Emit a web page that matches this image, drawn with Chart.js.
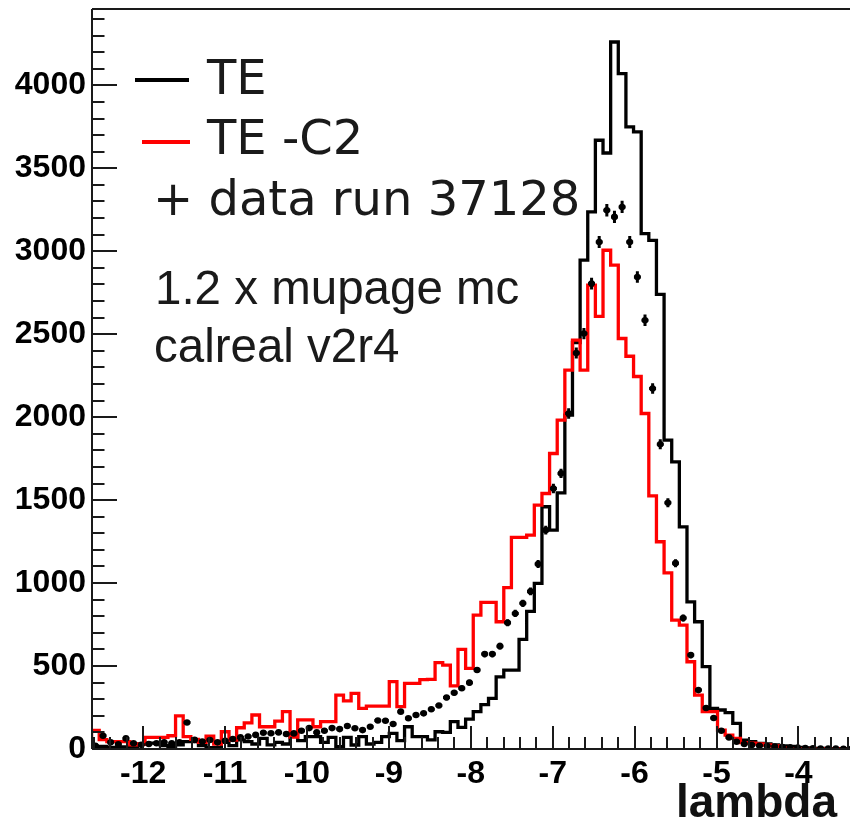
<!DOCTYPE html>
<html>
<head>
<meta charset="utf-8">
<script src="https://cdn.jsdelivr.net/npm/chart.js@4.4.1/dist/chart.umd.min.js"></script>
<style>
html,body{margin:0;padding:0;background:#fff;}
#wrap{width:854px;height:823px;position:relative;}
canvas{display:block;}
</style>
</head>
<body>
<div id="wrap"><canvas id="c" width="854" height="823"></canvas></div>
<script>
// ---- data ----
const xMin = -12.625, xMax = -3.37;
const yMin = 0, yMax = 4460;
const binStart = -12.63, binWidth = 0.0932;
const xTickValues = [-12, -11, -10, -9, -8, -7, -6, -5, -4];
const yTickValues = [0, 500, 1000, 1500, 2000, 2500, 3000, 3500, 4000];
const xMinorStep = 0.2, yMinorStep = 100;

const histTE = [
  30, 12, 15, 10, 10, 12, 15, 30, 35, 35,
  20, 15, 25, 44, 45, 20, 8, 8, 40, 20,
  55, 45, 30, 64, 25, 40, 30, 98, 50, 74,
  74, 40, 70, 14, 70, 24, 74, 30, 40, 74,
  94, 50, 134, 74, 74, 55, 104, 100, 165, 130,
  180, 225, 268, 305, 435, 475, 475, 661, 830, 998,
  1460, 1319, 1544, 2012, 2450, 2946, 3237, 3669, 3592, 4261,
  4070, 3749, 3719, 3106, 3066, 2740, 1861, 1731, 1339, 887,
  767, 496, 245, 235, 219, 155, 54, 44, 34, 30,
  25, 18, 15, 10, 6, 4, 3, 2, 2, 1
];
const histTEC2 = [
  18, 112, 56, 45, 45, 45, 25, 30, 70, 70,
  70, 80, 200, 75, 58, 40, 78, 30, 104, 54,
  128, 158, 205, 134, 134, 168, 225, 72, 175, 175,
  134, 165, 165, 325, 290, 335, 245, 259, 259, 259,
  406, 255, 396, 396, 418, 420, 520, 506, 380, 600,
  486, 807, 884, 884, 767, 973, 1275, 1275, 1289, 1470,
  1540, 1781, 1982, 2283, 2464, 2283, 2795, 2608, 3006, 2916,
  2474, 2367, 2245, 2022, 1525, 1249, 1062, 777, 747, 526,
  325, 225, 225, 114, 84, 64, 38, 36, 30, 24,
  18, 8, 2, 1, 0, 0, 0, 0, 0, 0
];
const dataRun = [
  20, 80, 40, 28, 64, 35, 25, 30, 35, 40,
  35, 40, 160, 55, 45, 54, 40, 50, 60, 70,
  75, 85, 98, 95, 100, 90, 94, 110, 126, 100,
  110, 126, 120, 139, 125, 114, 134, 172, 170, 151,
  225, 185, 205, 215, 240, 262, 310, 339, 366, 400,
  476, 572, 572, 620, 761, 817, 878, 950, 1115, 1319,
  1570, 1661, 2022, 2387, 2504, 2805, 3056, 3247, 3207, 3267,
  3056, 2845, 2584, 2173, 1837, 1484, 1120, 789, 566, 355,
  247, 187, 110, 70, 44, 30, 24, 20, 18, 15,
  12, 10, 8, 6, 4, 3, 2, 2, 1, 1
];
const dataErr = [
  2, 5, 3, 3, 4, 3, 3, 3, 3, 3,
  3, 3, 7, 4, 4, 4, 3, 4, 4, 5,
  5, 5, 5, 5, 6, 5, 5, 6, 6, 6,
  6, 6, 6, 6, 6, 6, 6, 7, 7, 7,
  8, 7, 8, 8, 9, 9, 10, 10, 11, 11,
  12, 13, 13, 14, 15, 16, 16, 17, 18, 20,
  22, 22, 25, 27, 28, 29, 30, 31, 31, 31,
  30, 29, 28, 26, 24, 21, 18, 15, 13, 10,
  9, 8, 6, 5, 4, 3, 3, 2, 2, 2,
  2, 2, 2, 1, 1, 1, 1, 1, 1, 1
];
const legendLabels = ['TE', 'TE -C2', '+ data run 37128'];
const legendColors = ['#000000', '#ff0000', null];
const noteLines = ['1.2 x mupage mc', 'calreal v2r4'];
const xTitle = 'lambda';

// ---- build library datasets ----
function stepPoints(vals) {
  const pts = vals.map((v, i) => ({ x: binStart + i * binWidth, y: v }));
  pts.push({ x: binStart + vals.length * binWidth, y: vals[vals.length - 1] });
  return pts;
}
const dataPoints = dataRun.map((v, i) => ({ x: binStart + (i + 0.5) * binWidth, y: v }));

const TICK_FONT = { family: "'Liberation Sans', Arial, Helvetica, sans-serif", weight: 'bold', size: 32 };

const errorBarPlugin = {
  id: 'errorBars',
  afterDatasetsDraw(chart) {
    const ctx = chart.ctx, xs = chart.scales.x, ys = chart.scales.y, a = chart.chartArea;
    ctx.save();
    ctx.beginPath();
    ctx.rect(a.left, a.top, a.right - a.left, a.bottom - a.top);
    ctx.clip();
    ctx.strokeStyle = '#000';
    ctx.lineWidth = 3;
    ctx.lineCap = 'butt';
    dataRun.forEach((v, i) => {
      const xc = binStart + (i + 0.5) * binWidth;
      const px = xs.getPixelForValue(xc);
      const pl = xs.getPixelForValue(xc - 0.45 * binWidth);
      const pr = xs.getPixelForValue(xc + 0.45 * binWidth);
      const py = ys.getPixelForValue(v);
      ctx.beginPath();
      ctx.moveTo(pl, py); ctx.lineTo(pr, py);
      const pt = ys.getPixelForValue(v + dataErr[i]);
      const pb = ys.getPixelForValue(Math.max(0, v - dataErr[i]));
      ctx.moveTo(px, pt - 1); ctx.lineTo(px, pb + 1);
      ctx.stroke();
    });
    ctx.restore();
  }
};

const framePlugin = {
  id: 'rootFrame',
  afterDraw(chart) {
    const ctx = chart.ctx, xs = chart.scales.x, ys = chart.scales.y, a = chart.chartArea;
    ctx.save();
    ctx.strokeStyle = '#1a1a1a';
    ctx.lineWidth = 2;
    ctx.beginPath();
    ctx.moveTo(a.left, a.top); ctx.lineTo(a.left, a.bottom);
    ctx.moveTo(a.left, a.bottom); ctx.lineTo(a.right, a.bottom);
    ctx.moveTo(a.left, a.top); ctx.lineTo(a.right, a.top);
    ctx.stroke();
    ctx.beginPath();
    for (let k = Math.ceil((xMin + 0.001) / xMinorStep); k * xMinorStep <= xMax; k++) {
      const v = k * xMinorStep;
      const isMajor = Math.abs(v - Math.round(v)) < 1e-6;
      const px = Math.round(xs.getPixelForValue(v));
      ctx.moveTo(px, a.bottom);
      ctx.lineTo(px, a.bottom - (isMajor ? 23 : 12));
    }
    for (let v = yMin; v <= yMax; v += yMinorStep) {
      const isMajor = v % 500 === 0;
      const py = Math.round(ys.getPixelForValue(v));
      ctx.moveTo(a.left, py);
      ctx.lineTo(a.left + (isMajor ? 25 : 12.5), py);
    }
    ctx.stroke();

    // legend
    ctx.fillStyle = '#1a1a1a';
    ctx.textAlign = 'left';
    ctx.textBaseline = 'alphabetic';
    ctx.font = "48px 'DejaVu Sans', sans-serif";
    ctx.lineWidth = 4;
    ctx.strokeStyle = legendColors[0];
    ctx.beginPath(); ctx.moveTo(135, 80); ctx.lineTo(189, 80); ctx.stroke();
    ctx.strokeStyle = legendColors[1];
    ctx.beginPath(); ctx.moveTo(142, 142); ctx.lineTo(190, 142); ctx.stroke();
    ctx.fillText(legendLabels[0], 207, 94);
    ctx.fillText(legendLabels[1], 207, 154);
    ctx.fillText(legendLabels[2], 153, 215);

    // notes
    ctx.font = "47.5px 'Liberation Sans', Arial, sans-serif";
    ctx.fillText(noteLines[0], 155, 304);
    ctx.fillText(noteLines[1], 154, 362);

    // axis title
    ctx.fillStyle = '#111';
    ctx.font = "bold 46px 'Liberation Sans', Arial, sans-serif";
    ctx.textAlign = 'right';
    ctx.fillText(xTitle, 837, 817);
    ctx.restore();
  }
};

new Chart(document.getElementById('c').getContext('2d'), {
  type: 'line',
  data: {
    datasets: [
      { label: legendLabels[0], data: stepPoints(histTE), borderColor: '#000000', borderWidth: 3.3,
        stepped: 'after', pointRadius: 0, fill: false, order: 3 },
      { label: legendLabels[1], data: stepPoints(histTEC2), borderColor: '#ff0000', borderWidth: 3.3,
        stepped: 'after', pointRadius: 0, fill: false, order: 2 },
      { label: legendLabels[2], data: dataPoints, showLine: false, pointRadius: 3.3,
        pointBackgroundColor: '#000', pointBorderWidth: 0, borderColor: '#000', order: 1 }
    ]
  },
  options: {
    responsive: false,
    animation: false,
    devicePixelRatio: 1,
    layout: { padding: { top: 9, right: 0, left: 0, bottom: 0 } },
    plugins: { legend: { display: false }, tooltip: { enabled: false } },
    scales: {
      x: {
        type: 'linear', min: xMin, max: xMax,
        grid: { display: false, drawTicks: false },
        border: { display: false },
        afterBuildTicks: s => { s.ticks = xTickValues.map(v => ({ value: v })); },
        afterFit: s => { s.height = 74; s.paddingLeft = 0; s.paddingRight = 0; },
        ticks: { font: TICK_FONT, color: '#000', padding: 6, maxRotation: 0, autoSkip: false,
          callback: v => String(v) }
      },
      y: {
        type: 'linear', min: yMin, max: yMax,
        grid: { display: false, drawTicks: false },
        border: { display: false },
        afterBuildTicks: s => { s.ticks = yTickValues.map(v => ({ value: v })); },
        afterFit: s => { s.width = 92; s.paddingTop = 0; s.paddingBottom = 0; },
        ticks: { font: TICK_FONT, color: '#000', padding: 6, autoSkip: false,
          callback: v => String(v) }
      }
    }
  },
  plugins: [errorBarPlugin, framePlugin]
});
</script>
</body>
</html>
